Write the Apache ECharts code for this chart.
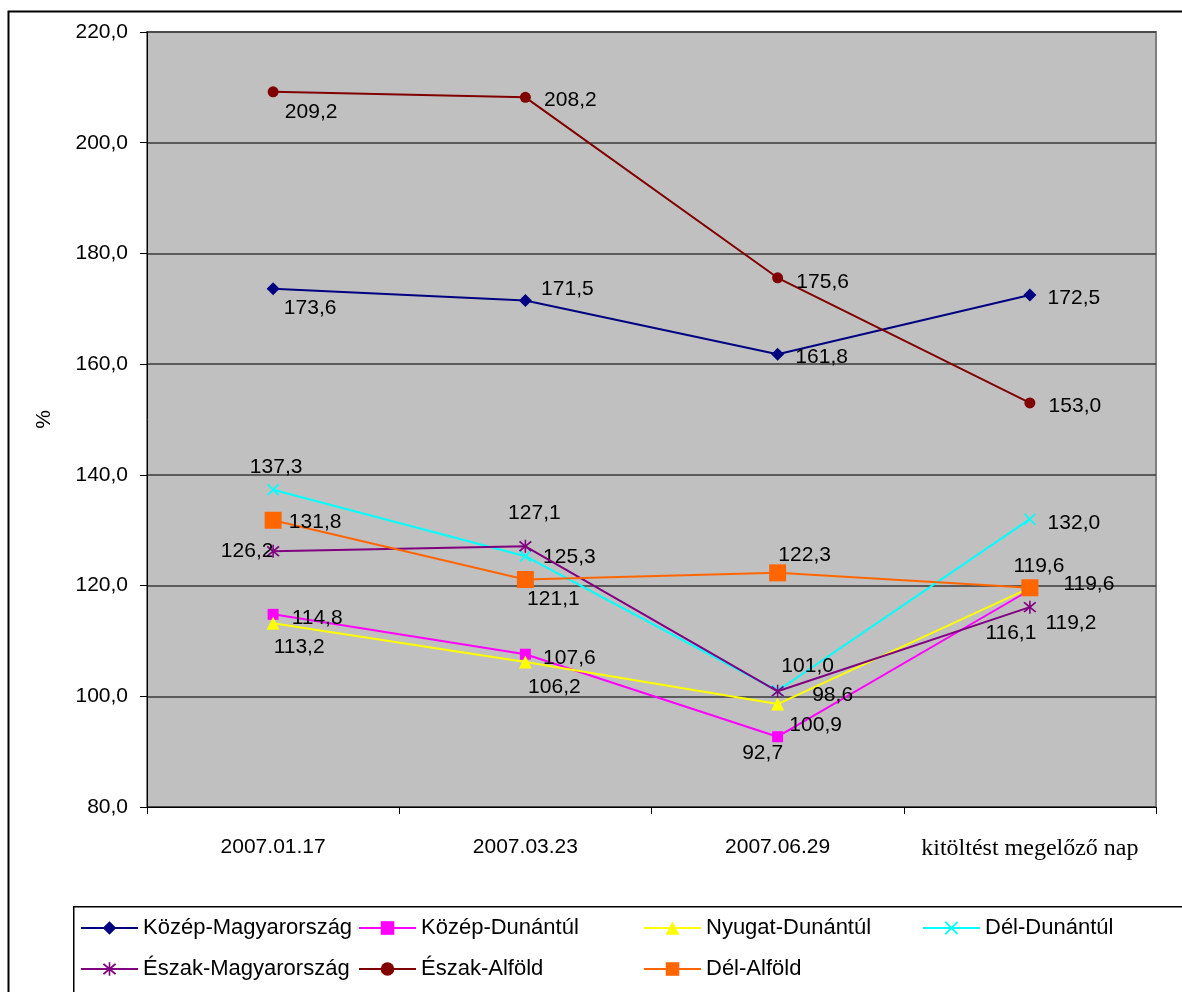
<!DOCTYPE html>
<html>
<head>
<meta charset="utf-8">
<script src="https://cdn.jsdelivr.net/npm/echarts@6/dist/echarts.min.js"></script>
<style>
html,body{margin:0;padding:0;background:#fff;}
#chart{width:1182px;height:992px;}
</style>
</head>
<body>
<div id="chart"></div>
<script>
// ---- data ----
const categories = ['2007.01.17', '2007.03.23', '2007.06.29', 'kitöltést megelőző nap'];
const seriesNames = ['Közép-Magyarország', 'Közép-Dunántúl', 'Nyugat-Dunántúl', 'Dél-Dunántúl', 'Észak-Magyarország', 'Észak-Alföld', 'Dél-Alföld'];
const kozepMagyarorszag = [173.6, 171.5, 161.8, 172.5];
const kozepDunantul = [114.8, 107.6, 92.7, 119.2];
const nyugatDunantul = [113.2, 106.2, 98.6, 119.6];
const delDunantul = [137.3, 125.3, 101.0, 132.0];
const eszakMagyarorszag = [126.2, 127.1, 100.9, 116.1];
const eszakAlfold = [209.2, 208.2, 175.6, 153.0];
const delAlfold = [131.8, 121.1, 122.3, 119.6];
const yMin = 80, yMax = 220, yStep = 20;
const yAxisName = '%';

// ---- styling ----
const FONT = "'Liberation Sans', Arial, sans-serif";
const SERIF = "'Liberation Serif', 'DejaVu Serif', serif";
const xPath = 'path://M0,1 L1,0 L5,4 L9,0 L10,1 L6,5 L10,9 L9,10 L5,6 L1,10 L0,9 L4,5 Z';
const starPath = 'path://M0,1 L1,0 L5,4 L9,0 L10,1 L6,5 L10,9 L9,10 L5,6 L1,10 L0,9 L4,5 Z M4.4,-1 L5.6,-1 L5.6,11 L4.4,11 Z';
const styles = [
  {color: '#000080', symbol: 'diamond', size: 13},
  {color: '#FF00FF', symbol: 'rect', size: 11},
  {color: '#FFFF00', symbol: 'triangle', size: 13},
  {color: '#00FFFF', symbol: xPath, size: 12},
  {color: '#800080', symbol: starPath, size: 13},
  {color: '#800000', symbol: 'circle', size: 11},
  {color: '#FF6600', symbol: 'rect', size: 17}
];
const labelOffsets = [
  [[37,19],[42,-11],[44,3],[44,3]],
  [[44,4],[44,4],[-15,17],[41,33]],
  [[26,24],[29,25],[55,-9],[59,-4]],
  [[3,-23],[44,1],[30,-25],[44,4]],
  [[-26,0],[9,-33],[38,34],[-19,26]],
  [[38,20],[45,3],[45,4],[45,3]],
  [[42,2],[28,20],[27,-18],[9,-22]]
];
const legendPos = [
  [80, 917], [358, 917], [643, 917], [922, 917],
  [80, 958], [358, 958], [643, 958]
];
const allValues = [kozepMagyarorszag, kozepDunantul, nyugatDunantul, delDunantul, eszakMagyarorszag, eszakAlfold, delAlfold];
const fmt = v => v.toFixed(1).replace('.', ',');

const series = seriesNames.map((name, i) => ({
  name: name,
  type: 'line',
  symbol: styles[i].symbol,
  symbolSize: styles[i].size,
  showAllSymbol: true,
  lineStyle: {color: styles[i].color, width: 2},
  itemStyle: {color: styles[i].color, borderWidth: 0},
  emphasis: {disabled: true},
  z: 2 + i,
  data: allValues[i].map((v, j) => ({
    value: v,
    label: {offset: labelOffsets[i][j]}
  })),
  label: {
    show: true,
    position: 'inside',
    align: 'center',
    verticalAlign: 'middle',
    color: '#000',
    fontFamily: FONT,
    fontSize: 21,
    formatter: p => fmt(p.value)
  }
}));

const legends = seriesNames.map((name, i) => ({
  data: [name],
  left: legendPos[i][0],
  top: legendPos[i][1],
  padding: 0,
  itemWidth: 57,
  itemHeight: 17,
  itemGap: 0,
  textStyle: {fontFamily: FONT, fontSize: 22, color: '#000'},
  selectedMode: false
}));

const chart = echarts.init(document.getElementById('chart'), null, {renderer: 'canvas'});
chart.setOption({
  animation: false,
  backgroundColor: '#fff',
  graphic: [
    {type: 'rect', left: 6, top: 9, shape: {width: 1200, height: 1000}, style: {fill: 'none', stroke: '#000', lineWidth: 2}, z: -10},
    {type: 'rect', left: 73, top: 906, shape: {width: 1150, height: 100}, style: {fill: '#fff', stroke: '#000', lineWidth: 1.5}, z: -5}
  ],
  grid: {
    left: 147, right: 26, top: 32, bottom: 185,
    show: true, backgroundColor: '#C0C0C0', borderColor: '#808080', borderWidth: 2
  },
  legend: legends,
  xAxis: {
    type: 'category',
    data: categories,
    boundaryGap: true,
    axisLine: {lineStyle: {color: '#000', width: 1}},
    axisTick: {show: true, length: 7, lineStyle: {color: '#000'}},
    axisLabel: {
      margin: 30,
      interval: 0,
      formatter: (v, idx) => idx === categories.length - 1 ? '{s|' + v + '}' : '{n|' + v + '}',
      rich: {
        n: {fontFamily: FONT, fontSize: 21, color: '#000'},
        s: {fontFamily: SERIF, fontSize: 24, color: '#000'}
      }
    }
  },
  yAxis: {
    type: 'value',
    min: yMin, max: yMax, interval: yStep,
    name: yAxisName,
    nameLocation: 'middle',
    nameGap: 92,
    nameRotate: 90,
    nameTextStyle: {fontFamily: FONT, fontSize: 21, color: '#000'},
    axisLine: {show: true, lineStyle: {color: '#000', width: 1}},
    axisTick: {show: true, length: 7, lineStyle: {color: '#000'}},
    axisLabel: {margin: 19, fontFamily: FONT, fontSize: 21, color: '#000', formatter: v => fmt(v)},
    splitLine: {show: true, lineStyle: {color: '#3a3a3a', width: 1.5}}
  },
  series: series
});
</script>
</body>
</html>
